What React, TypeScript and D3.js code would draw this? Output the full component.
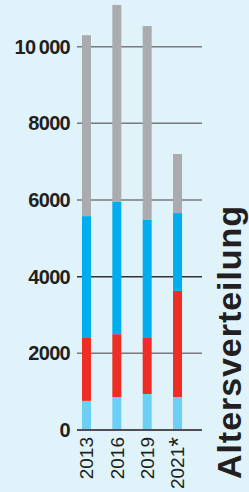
import { useEffect, useRef } from "react";
import * as d3 from "d3";

const years = ["2013", "2016", "2019", "2021*"];
// stacked segments, bottom to top
const seg1 = [760, 860, 940, 860];
const seg2 = [1660, 1640, 1460, 2770];
const seg3 = [3160, 3450, 3080, 2030];
const seg4 = [4720, 5140, 5060, 1540];
const segColors = ["#6dcff6", "#ee2d24", "#00aeef", "#a9abae"];
const ticks = [0, 2000, 4000, 6000, 8000, 10000];
const title = "Altersverteilung";

const W = 249;
const H = 492;

function renderChart(element: SVGSVGElement) {
  const svg = d3.select(element);
  svg.selectAll("*").remove();

  svg.append("rect").attr("width", W).attr("height", H).attr("fill", "#e1f3fa");

  const x = d3.scalePoint<string>().domain(years).range([71.3, 192.7]).padding(0.5);
  const y = d3.scaleLinear().domain([0, 10000]).range([430, 46.7]);

  // grid lines
  svg
    .append("g")
    .selectAll("line")
    .data(ticks.filter((t) => t > 0))
    .join("line")
    .attr("x1", 77)
    .attr("x2", 202)
    .attr("y1", (d) => y(d))
    .attr("y2", (d) => y(d))
    .attr("stroke", (d) => (d === 4000 ? "#333335" : "#77797c"))
    .attr("stroke-width", 1.5);

  // tick labels
  svg
    .append("g")
    .selectAll("text")
    .data(ticks)
    .join("text")
    .attr("x", 70)
    .attr("y", (d) => y(d))
    .attr("dy", "0.35em")
    .attr("text-anchor", "end")
    .attr("font-family", "Liberation Sans, Arial, sans-serif")
    .attr("font-weight", "bold")
    .attr("font-size", 20)
    .attr("letter-spacing", -0.7)
    .attr("fill", "#231f20")
    .text((d) => (d >= 10000 ? d3.format(",")(d).replace(",", "\u2009") : String(d)));

  // stacked bars
  const rows = years.map((yr, i) => ({ yr, a: seg1[i], b: seg2[i], c: seg3[i], d: seg4[i] }));
  const stack = d3.stack<any>().keys(["a", "b", "c", "d"])(rows);
  const bw = 9;
  svg
    .append("g")
    .selectAll("g")
    .data(stack)
    .join("g")
    .attr("fill", (_, i) => segColors[i])
    .selectAll("rect")
    .data((s) => s)
    .join("rect")
    .attr("x", (d: any) => (x(d.data.yr) as number) - bw / 2)
    .attr("y", (d) => y(d[1]))
    .attr("width", bw)
    .attr("height", (d) => y(d[0]) - y(d[1]));

  // baseline
  svg
    .append("line")
    .attr("x1", 77)
    .attr("x2", 202)
    .attr("y1", y(0))
    .attr("y2", y(0))
    .attr("stroke", "#4d4f52")
    .attr("stroke-width", 1.8);

  // year labels
  const yl = svg
    .append("g")
    .selectAll("text")
    .data(years)
    .join("text")
    .attr("transform", (d) => `translate(${x(d)},437) rotate(-90)`)
    .attr("text-anchor", "end")
    .attr("dy", "0.36em")
    .attr("font-family", "Liberation Sans, Arial, sans-serif")
    .attr("font-size", 19)
    .attr("fill", "#231f20");
  yl.append("tspan").text((d) => d.replace("*", ""));
  yl.filter((d) => d.includes("*"))
    .append("tspan")
    .attr("font-size", 25)
    .attr("dy", "0.12em")
    .text("*");

  // vertical title
  svg
    .append("text")
    .attr("transform", "translate(241,479) rotate(-90)")
    .attr("font-family", "Liberation Sans, Arial, sans-serif")
    .attr("font-weight", "bold")
    .attr("font-size", 34)
    .attr("textLength", 273)
    .attr("lengthAdjust", "spacing")
    .attr("fill", "#231f20")
    .text(title);
}

export default function App() {
  const ref = useRef<SVGSVGElement>(null);
  useEffect(() => {
    if (ref.current) renderChart(ref.current);
  }, []);
  return (
    <svg
      ref={ref}
      width={W}
      height={H}
      style={{ position: "absolute", left: 0, top: 0, display: "block" }}
    />
  );
}
